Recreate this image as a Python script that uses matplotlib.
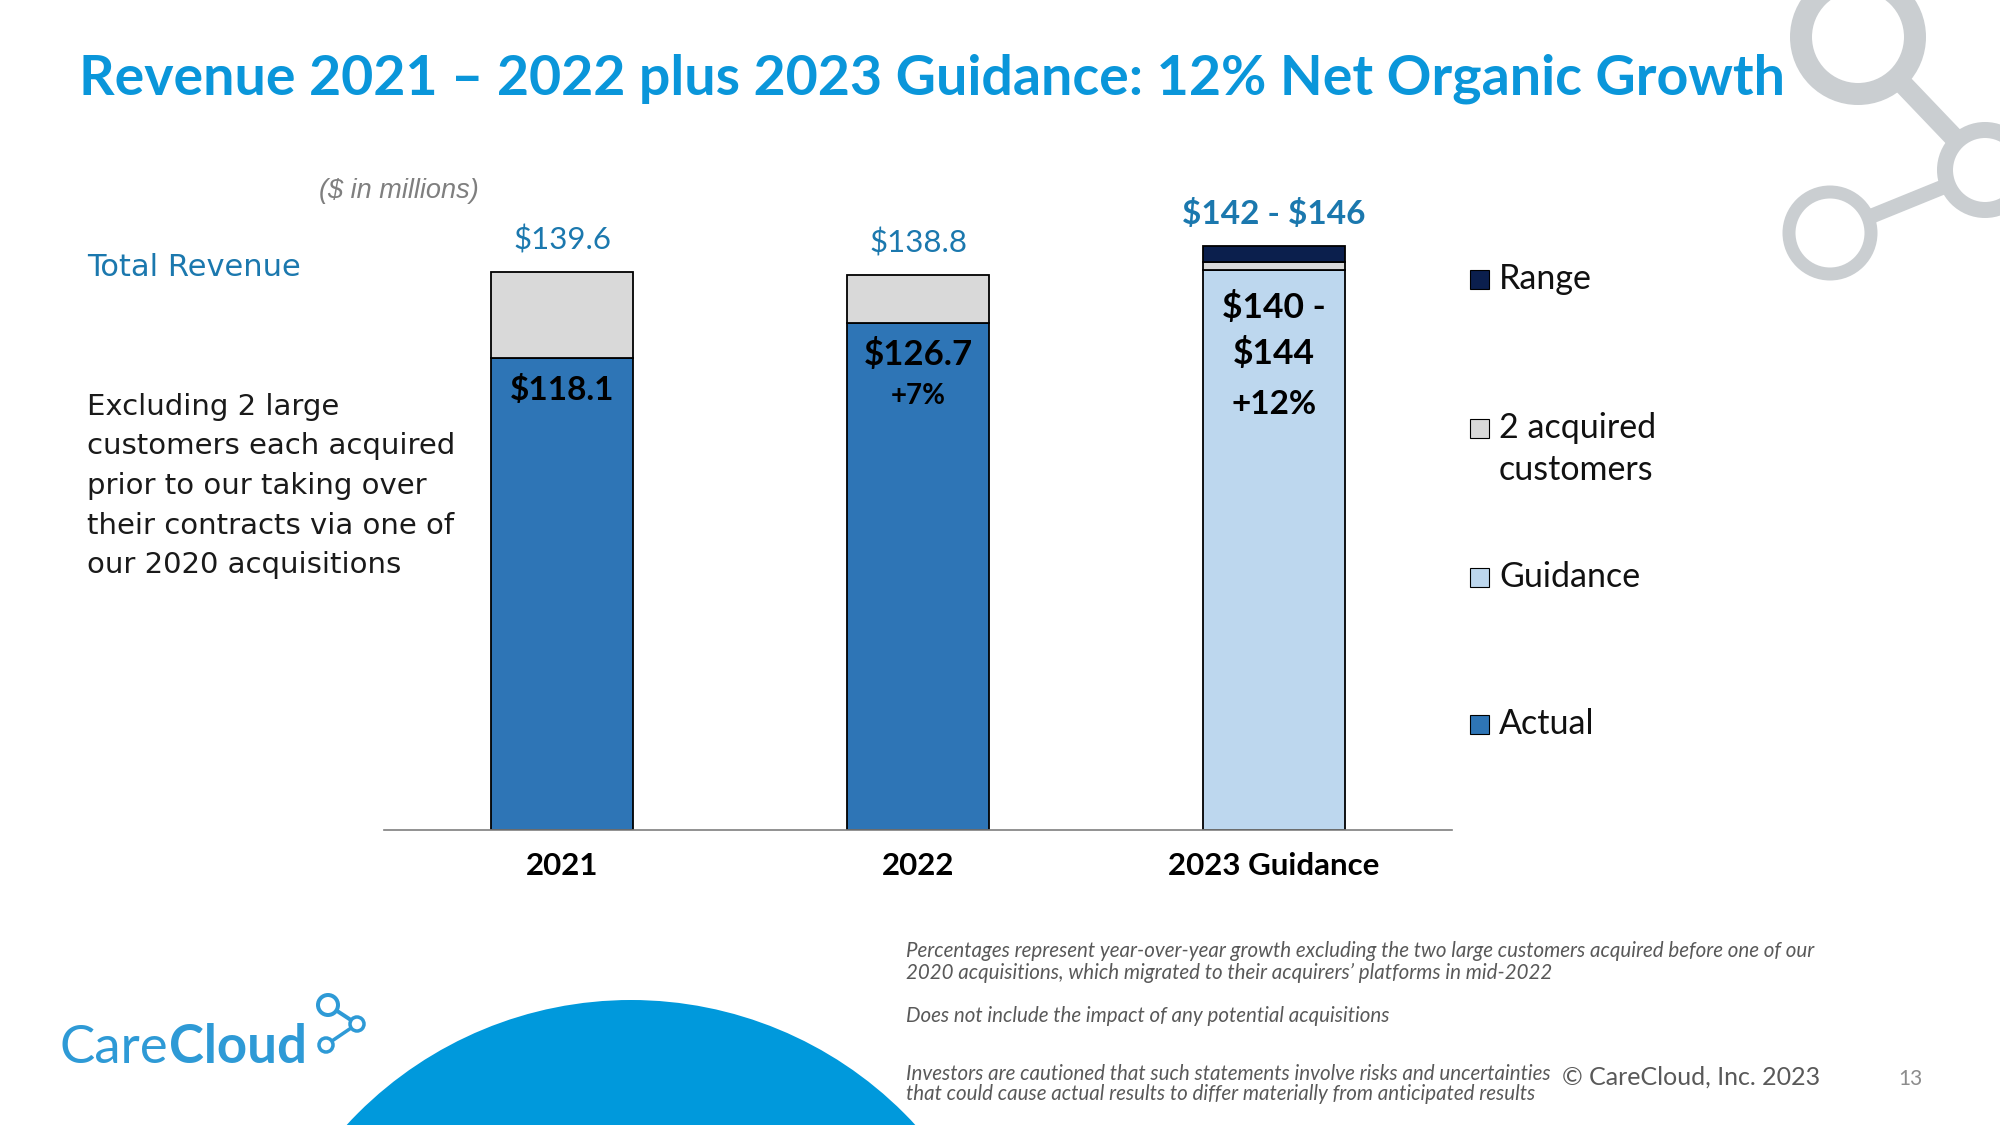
import numpy as np
import matplotlib

matplotlib.use("Agg")
import matplotlib.pyplot as plt
from matplotlib.patches import Circle, Rectangle

# ---- data ($ in millions) ----
years = ["2021", "2022", "2023 Guidance"]
actual = [118.1, 126.7, 0.0]
guidance = [0.0, 0.0, 140.0]
acquired = [21.5, 12.1, 2.0]
guide_range = [0.0, 0.0, 4.0]
total_labels = ["$139.6", "$138.8", "$142 - $146"]
inner_labels = [["$118.1"], ["$126.7", "+7%"], ["$140 -", "$144", "+12%"]]
legend_labels = ["Range", "2 acquired\ncustomers", "Guidance", "Actual"]

TITLE = "Revenue 2021 \u2013 2022 plus 2023 Guidance: 12% Net Organic Growth"
SIDE_NOTE = ["Excluding 2 large", "customers each acquired", "prior to our taking over",
             "their contracts via one of", "our 2020 acquisitions"]
FOOTNOTES = [
    "Percentages represent year-over-year growth excluding the two large customers acquired before one of our",
    "2020 acquisitions, which migrated to their acquirers\u2019 platforms in mid-2022",
    "Does not include the impact of any potential acquisitions",
    "Investors are cautioned that such statements involve risks and uncertainties",
    "that could cause actual results to differ materially from anticipated results",
]

C_ACTUAL = "#2E75B6"
C_GUIDE = "#BDD7EE"
C_ACQ = "#D9D9D9"
C_RANGE = "#0B1F4D"
C_TITLE = "#0A96DA"
C_TEAL = "#1B78AE"
C_LOGO = "#2E9AD6"
C_ICON = "#CACED1"
PT = 0.72  # points per pixel at dpi 100

plt.rcParams["font.family"] = ["Lato", "DejaVu Sans"]
plt.rcParams["text.parse_math"] = False  # dollar signs are literal

fig = plt.figure(figsize=(20, 11.25), dpi=100)

# background canvas in pixel coordinates
bg = fig.add_axes([0, 0, 1, 1], zorder=0)
bg.set_xlim(0, 2000)
bg.set_ylim(1125, 0)
bg.axis("off")

# ---- decorations ----
bg.add_patch(Circle((631, 1386), 386, color="#0099DC", lw=0))


def molecule(nodes, links, color, link_w):
    for (i, j), w in zip(links, link_w):
        (x1, y1, r1, _), (x2, y2, r2, _) = nodes[i], nodes[j]
        u = np.array([x2 - x1, y2 - y1], dtype=float)
        u /= np.hypot(*u)
        a = np.array([x1, y1]) + u * r1
        b = np.array([x2, y2]) - u * r2
        bg.plot([a[0], b[0]], [a[1], b[1]], color=color, lw=w * PT, solid_capstyle="butt")
    for x, y, r, t in nodes:
        bg.add_patch(Circle((x, y), r, fill=False, ec=color, lw=t * PT))


molecule([(1858, 37, 57, 22), (1985, 170, 40, 16), (1830, 233, 41, 13)],
         [(0, 1), (2, 1)], C_ICON, [20, 15])
molecule([(328, 1005, 10, 4), (357, 1024, 7, 3.5), (326, 1045, 7, 3.5)],
         [(0, 1), (2, 1)], C_LOGO, [4, 3.5])
care = bg.text(60, 1063, "Care", color=C_LOGO, fontsize=38, va="baseline", ha="left")
bg.annotate("Cloud", xy=(1, 0), xycoords=care, color=C_LOGO, fontsize=38,
            fontweight="bold", va="bottom", ha="left")

# ---- texts ----
bg.text(79, 94, TITLE, color=C_TITLE, fontsize=40, fontweight="bold", va="baseline", ha="left")
bg.text(319, 198, "($ in millions)", color="#7F7F7F", fontsize=19.5, style="italic",
        family="Liberation Sans", va="baseline")
bg.text(87, 276, "Total Revenue", color=C_TEAL, fontsize=22, family="DejaVu Sans", va="baseline")
for k, line in enumerate(SIDE_NOTE):
    bg.text(87, 415 + 39.5 * k, line, color="#1A1A1A", fontsize=21, family="DejaVu Sans",
            va="baseline")

for y, line in zip([957, 979, 1022, 1080, 1100], FOOTNOTES):
    bg.text(906, y, line, color="#595959", fontsize=14.8, style="italic", va="baseline")
bg.text(1562, 1085, "\u00a9 CareCloud, Inc. 2023", color="#595959", fontsize=18, va="baseline")
bg.text(1898, 1085, "13", color="#8C8C8C", fontsize=15, va="baseline")

# ---- legend (drawn by hand: entries are spread down the slide) ----
for (y, lab, col) in zip([279, 428, 577, 724], legend_labels, [C_RANGE, C_ACQ, C_GUIDE, C_ACTUAL]):
    bg.add_patch(Rectangle((1470, y - 9.5), 19, 19, fc=col, ec="black", lw=0.8))
    for k, part in enumerate(lab.split("\n")):
        bg.text(1499, y + 42 * k, part, fontsize=24.5, color="#111111", va="center", ha="left")

# ---- chart ----
ax = fig.add_axes([384 / 2000, 1 - 830 / 1125, 1068 / 2000, 600 / 1125], zorder=1)
ax.patch.set_alpha(0)
x = np.arange(len(years))
actual_a = np.array(actual)
guidance_a = np.array(guidance)
acquired_a = np.array(acquired)
range_a = np.array(guide_range)
width = 0.40

stack = [
    (actual_a, np.zeros(3), C_ACTUAL),
    (guidance_a, np.zeros(3), C_GUIDE),
    (acquired_a, actual_a + guidance_a, C_ACQ),
    (range_a, actual_a + guidance_a + acquired_a, C_RANGE),
]
for vals, bottom, col in stack:
    m = vals > 0
    ax.bar(x[m], vals[m], width, bottom=bottom[m], color=col, edgecolor="black", linewidth=1.3)

ax.set_xlim(-0.5, 2.5)
ax.set_ylim(0, 150)
ax.set_yticks([])
ax.set_xticks(x, years, fontsize=22.5, fontweight="bold")
ax.tick_params(axis="x", length=0, pad=16)
for s in ("top", "left", "right"):
    ax.spines[s].set_visible(False)
ax.spines["bottom"].set_color("#7F7F7F")
ax.spines["bottom"].set_linewidth(1.2)

totals = actual_a + guidance_a + acquired_a + range_a
for i, lab in enumerate(total_labels):
    bold = i == 2
    ax.annotate(lab, (x[i], totals[i]), xytext=(0, 22 * PT), textcoords="offset points",
                ha="center", va="baseline", color=C_TEAL,
                fontsize=24 if bold else 22.5, fontweight="bold" if bold else "normal")

base = actual_a + guidance_a
inner_offsets = [[-32], [-31, -73], [-37, -84, -135]]
inner_sizes = [[24], [25, 20], [25.5, 25.5, 24]]
for i, lines in enumerate(inner_labels):
    for lab, off, fs in zip(lines, inner_offsets[i], inner_sizes[i]):
        ax.annotate(lab, (x[i], base[i]), xytext=(0, off * PT), textcoords="offset points",
                    ha="center", va="center", color="black", fontsize=fs, fontweight="bold")

fig.savefig("out.png", dpi=100)
